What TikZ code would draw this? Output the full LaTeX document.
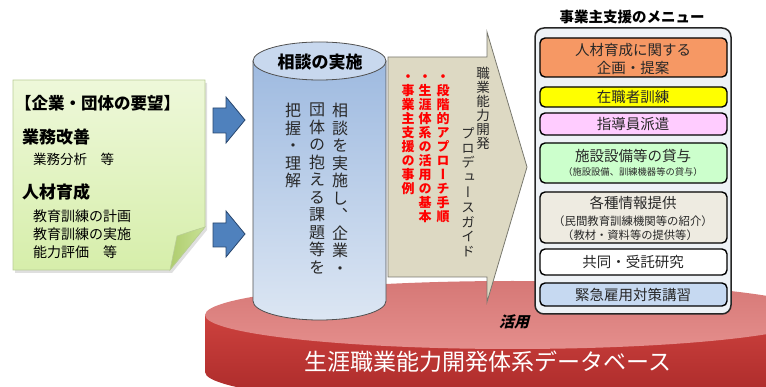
\documentclass[tikz,border=0pt]{standalone}
\usepackage{fontspec}
\setmainfont{Noto Sans CJK JP}
\newfontfamily\jpv[RawFeature=+vert]{Noto Sans CJK JP}
\newfontfamily\jpsl[FakeSlant=0.25]{Noto Sans CJK JP}
\makeatletter
\def\vc@end{\vc@end@}
\newcommand\vcol[2]{\vbox{\baselineskip=#1\lineskiplimit=-\maxdimen\lineskip=0pt\vc@do#2\vc@end}}
\def\vc@do#1{\ifx#1\vc@end\else\hbox to 1em{\hss#1\hss}\expandafter\vc@do\fi}
\makeatother
\definecolor{diskA}{RGB}{205,66,62}
\definecolor{diskB}{RGB}{168,40,40}
\definecolor{diskTopA}{RGB}{214,120,118}
\definecolor{diskTopB}{RGB}{228,142,140}
\definecolor{cylA}{RGB}{158,186,224}
\definecolor{cylB}{RGB}{220,230,243}
\definecolor{cylTop}{RGB}{200,216,238}
\definecolor{cylLine}{RGB}{80,80,80}
\definecolor{guide}{RGB}{221,217,195}
\definecolor{guideLine}{RGB}{120,120,110}
\definecolor{arrowBlue}{RGB}{79,129,189}
\definecolor{arrowLine}{RGB}{40,70,110}
\definecolor{noteA}{RGB}{238,248,218}
\definecolor{noteB}{RGB}{214,238,170}
\definecolor{noteLine}{RGB}{185,205,150}
\definecolor{foldA}{RGB}{175,205,110}
\definecolor{foldB}{RGB}{200,225,150}
\definecolor{darktext}{RGB}{40,40,40}
\definecolor{panel}{RGB}{238,242,246}
\definecolor{mOrange}{RGB}{246,152,100}
\definecolor{mYellow}{RGB}{255,255,0}
\definecolor{mPink}{RGB}{255,204,255}
\definecolor{mGreen}{RGB}{204,255,204}
\definecolor{mBeige}{RGB}{238,235,225}
\definecolor{mWhite}{RGB}{255,255,255}
\definecolor{mBlue}{RGB}{198,217,241}
\definecolor{redtext}{RGB}{255,0,0}
\tikzset{
  menubox/.style={draw=black, line width=1.4pt, rounded corners=5pt},
  menutext/.style={text=darktext, font=\fontsize{14.5}{16}\selectfont, inner sep=0pt},
  subtext/.style={text=darktext, inner sep=0pt},
  notetext/.style={anchor=west, text=black, inner sep=0pt},
  vtext/.style={anchor=north, inner sep=0pt},
  blockarrow/.style={fill=arrowBlue, draw=arrowLine, line width=0.8pt}
}
\begin{document}
\begin{tikzpicture}[x=1pt,y=-1pt]
\useasboundingbox (0,0) rectangle (766,387);
\clip (0,0) rectangle (766,387);

% ---- database disk
\shade[top color=diskA, bottom color=diskB] (205,315) -- (205,372)
  arc[start angle=180,end angle=0,x radius=307.5,y radius=34] -- (820,315) -- cycle;
\shade[top color=diskTopA, bottom color=diskTopB] (512.5,315) ellipse[x radius=307.5, y radius=34];

% ---- consultation cylinder
\shade[top color=cylA, bottom color=cylB, draw=cylLine, line width=0.8pt]
  (253,61) -- (253,301) arc[start angle=180,end angle=0,x radius=66.5,y radius=19] -- (386,61) -- cycle;
\filldraw[fill=cylTop, draw=cylLine, line width=0.8pt] (319.5,61) ellipse[x radius=66.5, y radius=19];
\node[font=\bfseries\fontsize{17}{20}\selectfont, text=black] (cyltitle) at (320,62) {相談の実施};
\node[vtext, text=darktext, font=\jpv\fontsize{16}{17}\selectfont] (c1) at (340,103) {\vcol{17.5pt}{相談を実施し、企業・}};
\node[vtext, text=darktext, font=\jpv\fontsize{16}{17}\selectfont] (c2) at (317,103) {\vcol{17.5pt}{団体の抱える課題等を}};
\node[vtext, text=darktext, font=\jpv\fontsize{16}{17}\selectfont] (c3) at (293,103) {\vcol{17.5pt}{把握・理解}};

% ---- guide arrow
\filldraw[fill=guide, draw=guideLine, line width=0.8pt]
  (388,57) -- (487,57) -- (487,32) -- (527,167) -- (487,302) -- (487,277) -- (388,277) -- cycle;
\node[vtext, text=darktext, font=\jpv\fontsize{13.5}{14}\selectfont] (g1) at (483,67) {\vcol{14pt}{職業能力開発}};
\node[vtext, text=darktext, font=\jpv\fontsize{13.5}{14}\selectfont] (g2) at (468,127) {\vcol{14.8pt}{プロデュースガイド}};
\node[vtext, text=redtext, font=\jpv\bfseries\fontsize{13}{14}\selectfont] (r1) at (443,75) {\vcol{14pt}{・段階的アプローチ手順}};
\node[vtext, text=redtext, font=\jpv\bfseries\fontsize{13}{14}\selectfont] (r2) at (425,75) {\vcol{14pt}{・生涯体系の活用の基本}};
\node[vtext, text=redtext, font=\jpv\bfseries\fontsize{13}{14}\selectfont] (r3) at (408,75) {\vcol{14pt}{・事業主支援の事例}};

% ---- sticky note
\fill[black!25, opacity=0.5] (15,83) -- (207,83) -- (207,230) -- (172,273) -- (15,273) -- cycle;
\shade[top color=noteA, bottom color=noteB, draw=noteLine, line width=0.6pt]
  (13,80) -- (205,80) -- (205,227) -- (170,270) -- (13,270) -- cycle;
\shade[left color=foldA, right color=foldB, draw=noteLine, line width=0.6pt]
  (205,227) .. controls (192,231) .. (177,236) -- (170,270) -- cycle;
\node[notetext, font=\bfseries\fontsize{16.5}{18}\selectfont] (req) at (15,103) {【企業・団体の要望】};
\node[notetext, font=\bfseries\fontsize{17}{19}\selectfont] (kaizen) at (22,137) {業務改善};
\node[notetext, font=\fontsize{13.5}{15}\selectfont] (bunseki) at (33,159) {業務分析　等};
\node[notetext, font=\bfseries\fontsize{17}{19}\selectfont] (ikusei) at (22,192) {人材育成};
\node[notetext, font=\fontsize{14}{15}\selectfont] (keikaku) at (33,216) {教育訓練の計画};
\node[notetext, font=\fontsize{14}{15}\selectfont] (jisshi) at (33,234) {教育訓練の実施};
\node[notetext, font=\fontsize{14}{15}\selectfont] (hyoka) at (33,252) {能力評価　等};

% ---- blue arrows
\filldraw[blockarrow] (213,108) -- (226,108) -- (226,97) -- (245,120) -- (226,143) -- (226,133) -- (213,133) -- cycle;
\filldraw[blockarrow] (213,223) -- (226,223) -- (226,211) -- (245,234) -- (226,257) -- (226,247) -- (213,247) -- cycle;

% ---- menu panel
\node[font=\bfseries\fontsize{14.5}{16}\selectfont, text=black] (menutitle) at (632,17) {事業主支援のメニュー};
\filldraw[fill=panel, draw=black!85, line width=1.5pt, rounded corners=9pt] (535,28) rectangle (731,314);
\filldraw[menubox, fill=mOrange] (540,38) rectangle (727,77);
\filldraw[menubox, fill=mYellow] (540,87) rectangle (727,107);
\filldraw[menubox, fill=mPink] (540,113) rectangle (727,135);
\filldraw[menubox, fill=mGreen] (540,143) rectangle (727,183);
\filldraw[menubox, fill=mBeige] (540,192) rectangle (727,243);
\filldraw[menubox, fill=mWhite] (540,249) rectangle (727,275);
\filldraw[menubox, fill=mBlue] (540,283) rectangle (727,306);
\node[menutext] (m1a) at (633,50) {人材育成に関する};
\node[menutext] (m1b) at (633,68) {企画・提案};
\node[menutext] (m2) at (633,97) {在職者訓練};
\node[menutext] (m3) at (633,124) {指導員派遣};
\node[menutext] (m4a) at (633,156) {施設設備等の貸与};
\node[subtext, font=\fontsize{9.3}{10}\selectfont] (m4b) at (633,172) {（施設設備、訓練機器等の貸与）};
\node[menutext] (m5a) at (633,203) {各種情報提供};
\node[subtext, font=\fontsize{11.4}{12}\selectfont] (m5b) at (633,221) {（民間教育訓練機関等の紹介）};
\node[subtext, font=\fontsize{11.3}{12}\selectfont] (m5c) at (630,235) {（教材・資料等の提供等）};
\node[menutext] (m6) at (633,262) {共同・受託研究};
\node[menutext] (m7) at (633,295) {緊急雇用対策講習};

% ---- disk labels
\node[font=\jpsl\bfseries\fontsize{15}{17}\selectfont, text=black] (katsuyo) at (514,322) {活用};
\node[font=\fontsize{23}{27}\selectfont, text=white] (db) at (488,362) {生涯職業能力開発体系データベース};
\end{tikzpicture}
\end{document}
